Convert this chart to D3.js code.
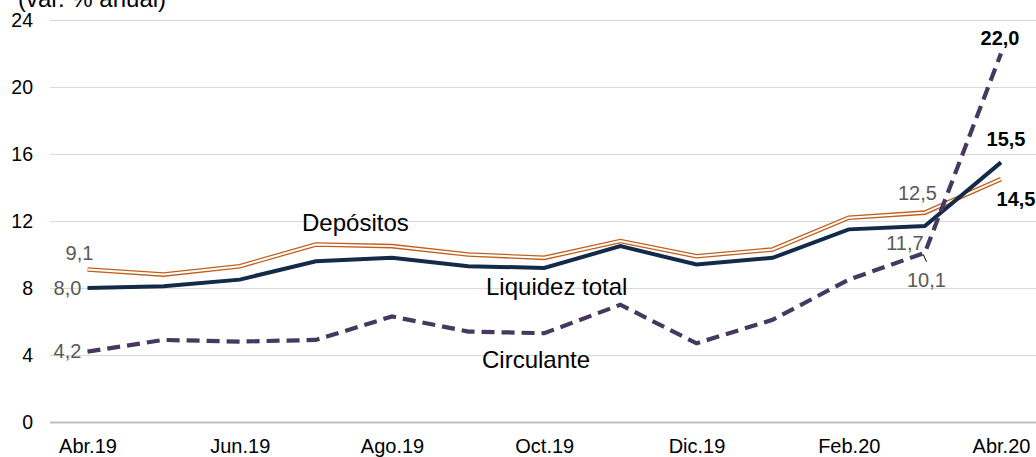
<!DOCTYPE html>
<html>
<head>
<meta charset="utf-8">
<script src="https://cdn.jsdelivr.net/npm/d3@7"></script>
<style>
  body { margin: 0; background: #fff; }
  svg { display: block; font-family: "Liberation Sans", Arial, sans-serif; }
  .grid line { stroke: #d9d9d9; stroke-width: 1; }
  .axis text { fill: #000; }
</style>
</head>
<body>
<div id="chart"></div>
<script>
// Months shown on the x axis (one point per month)
const months = ['Abr.19', 'May.19', 'Jun.19', 'Jul.19', 'Ago.19', 'Sep.19', 'Oct.19',
                'Nov.19', 'Dic.19', 'Ene.20', 'Feb.20', 'Mar.20', 'Abr.20'];
const xTickLabels = ['Abr.19', 'Jun.19', 'Ago.19', 'Oct.19', 'Dic.19', 'Feb.20', 'Abr.20'];
const yTicks = [0, 4, 8, 12, 16, 20, 24];

// Series (var. % anual)
const liquidez   = [8.0, 8.1, 8.5, 9.6, 9.8, 9.3, 9.2, 10.5, 9.4, 9.8, 11.5, 11.7, 15.5];
const depositos  = [9.1, 8.8, 9.3, 10.6, 10.5, 10.0, 9.8, 10.8, 9.9, 10.3, 12.2, 12.5, 14.5];
const circulante = [4.2, 4.9, 4.8, 4.9, 6.3, 5.4, 5.3, 7.0, 4.7, 6.1, 8.5, 10.1, 22.0];

const width = 1036, height = 457;
const font = '"Liberation Sans", Arial, sans-serif';

const svg = d3.select('#chart').append('svg')
    .attr('width', width)
    .attr('height', height);

const x = d3.scalePoint().domain(months).range([87.5, 1001]);
const y = d3.scaleLinear().domain([0, 24]).range([422, 20]);

// Gridlines + y tick labels
const yAxis = d3.axisLeft(y)
    .tickValues(yTicks)
    .tickSize(-(width - 50))
    .tickPadding(17)
    .tickFormat(d => d);

svg.append('g')
    .attr('class', 'grid axis')
    .attr('transform', 'translate(50,0)')
    .call(yAxis)
    .attr('font-family', font)
    .call(g => g.select('.domain').remove())
    .call(g => g.selectAll('text').style('font-size', '19.5px'))
    .call(g => g.selectAll('.tick').filter(d => d === 0).select('line')
        .style('stroke', '#bfbfbf').style('stroke-width', 2));

// x axis labels
const xAxis = d3.axisBottom(x)
    .tickValues(xTickLabels)
    .tickSize(0)
    .tickPadding(17);

svg.append('g')
    .attr('class', 'axis')
    .attr('transform', 'translate(0,422)')
    .call(xAxis)
    .attr('font-family', font)
    .call(g => g.select('.domain').remove())
    .call(g => g.selectAll('text').style('font-size', '20px'));

// Unit title (partly cut at the top)
svg.append('text')
    .attr('x', 18)
    .attr('y', 7)
    .style('font-size', '24px')
    .text('(var. % anual)');

const line = d3.line()
    .x((d, i) => x(months[i]))
    .y(d => y(d));

// Depósitos: orange double line
svg.append('path')
    .attr('d', line(depositos))
    .attr('fill', 'none')
    .attr('stroke', '#c0601f')
    .attr('stroke-width', 4.6);
svg.append('path')
    .attr('d', line(depositos))
    .attr('fill', 'none')
    .attr('stroke', '#fff')
    .attr('stroke-width', 2);

// Liquidez total
svg.append('path')
    .attr('d', line(liquidez))
    .attr('fill', 'none')
    .attr('stroke', '#132a48')
    .attr('stroke-width', 4);

// Circulante: dashed
svg.append('path')
    .attr('d', line(circulante))
    .attr('fill', 'none')
    .attr('stroke', '#46385e')
    .attr('stroke-width', 4.2)
    .attr('stroke-dasharray', '13,7');

// Series names
const names = [
  {text: 'Depósitos', x: 302, y: 231},
  {text: 'Liquidez total', x: 486, y: 295},
  {text: 'Circulante', x: 482, y: 368}
];
svg.selectAll('.series-name')
    .data(names)
    .join('text')
    .attr('class', 'series-name')
    .attr('x', d => d.x)
    .attr('y', d => d.y)
    .style('font-size', '24px')
    .text(d => d.text);

// Data labels
const fmt = v => d3.format('.1f')(v).replace('.', ',');
const labels = [
  {s: depositos, i: 0, dx: -8, dy: -10, bold: false},
  {s: liquidez, i: 0, dx: -20, dy: 7, bold: false},
  {s: circulante, i: 0, dx: -20, dy: 6, bold: false},
  {s: depositos, i: 11, dx: -7.5, dy: -12.6, bold: false},
  {s: liquidez, i: 11, dx: -20, dy: 24, bold: false},
  {s: circulante, i: 11, dx: 1.5, dy: 34, bold: false},
  {s: circulante, i: 12, dx: -1, dy: -8.5, bold: true},
  {s: liquidez, i: 12, dx: 5, dy: -16, bold: true},
  {s: depositos, i: 12, dx: 15, dy: 26.5, bold: true}
];
svg.selectAll('.data-label')
    .data(labels)
    .join('text')
    .attr('class', 'data-label')
    .attr('x', d => x(months[d.i]) + d.dx)
    .attr('y', d => y(d.s[d.i]) + d.dy)
    .attr('text-anchor', 'middle')
    .style('font-size', '20px')
    .style('font-weight', d => d.bold ? 'bold' : 'normal')
    .style('fill', d => d.bold ? '#000' : '#595959')
    .text(d => fmt(d.s[d.i]));

// small leader line for the 10,1 label
svg.append('line')
    .attr('x1', x('Mar.20') - 1.7).attr('y1', y(10.1) + 1.5)
    .attr('x2', x('Mar.20') + 1.7).attr('y2', y(10.1) + 9)
    .attr('stroke', '#000')
    .attr('stroke-width', 1);
</script>
</body>
</html>
